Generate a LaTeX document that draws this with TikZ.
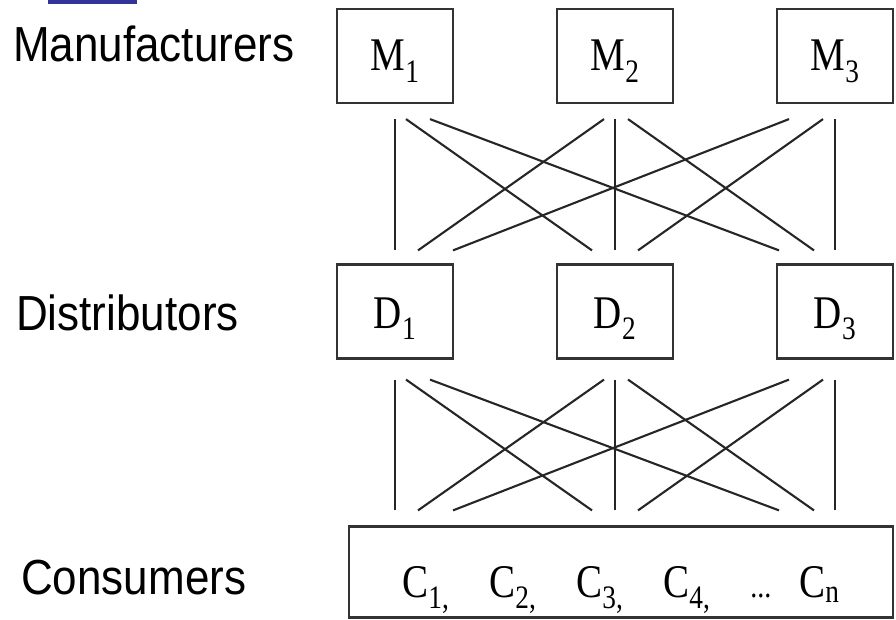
\documentclass[tikz,border=0pt]{standalone}
\usepackage{fontspec}
\setmainfont{Liberation Serif}
\newfontfamily\labelfont{Liberation Sans}
\definecolor{barblue}{RGB}{51,51,153}
\newcommand{\tallbox}[1]{\scalebox{1}[1.2]{#1}}

\begin{document}
\begin{tikzpicture}[x=1pt, y=-1pt,
    box/.style={draw=black!80, line width=2.2pt, minimum width=116pt, minimum height=94pt,
                inner sep=0pt, text height=30pt, text depth=0pt,
                font=\fontsize{39}{44}\selectfont},
    tier/.style={anchor=base west, inner sep=0pt, font=\labelfont\fontsize{44}{50}\selectfont},
    link/.style={draw=black!85, line width=2.1pt}]
  \useasboundingbox (0,0) rectangle (896,620);

  % --- Title bar ---
  \fill[barblue] (48,0) rectangle (137,4);

  % --- Tier names ---
  \node[tier] (manu) at (13,62) {\scalebox{1}[1.12]{Manufacturers}};
  \node[tier] (dist) at (16,330) {\scalebox{1}[1.12]{Distributors}};
  \node[tier] (cons) at (21,594) {\scalebox{1}[1.12]{Consumers}};

  % --- Manufacturers and distributors ---
  \foreach \i/\x in {1/395, 2/615, 3/835} {
    \node[box] (M\i) at (\x,56) {\tallbox{M\textsubscript{\i}}};
    \node[box, text height=33pt] (D\i) at (\x,311.5) {\tallbox{D\textsubscript{\i}}};
  }

  % --- Consumers ---
  \node[box, minimum width=544pt, minimum height=91pt, text height=51pt] (C) at (621,572)
    {\tallbox{\makebox[87pt][l]{C\textsubscript{1,}}\makebox[87pt][l]{C\textsubscript{2,}}%
     \makebox[87pt][l]{C\textsubscript{3,}}\makebox[87pt][l]{C\textsubscript{4,}}%
     \makebox[49pt][l]{\fontsize{28}{32}\selectfont...}C\textsubscript{n}}};
  % points on the top of the consumers box, one under each column
  \foreach \i in {1,2,3}
    \coordinate (K\i) at (D\i.south |- C.north);

  % --- Links: from / to / offset at upper end / offset at lower end ---
  \foreach \a/\b/\u/\v in {1/1/0/0, 1/2/11/-23, 1/3/35/-56,
                           2/1/-11/23, 2/2/0/0, 2/3/13/-21,
                           3/1/-46/58, 3/2/-12/23, 3/3/0/0} {
    \draw[link] ([xshift=\u pt, yshift=-15pt]M\a.south) -- ([xshift=\v pt, yshift=13pt]D\b.north);
    \draw[link] ([xshift=\u pt, yshift=-20pt]D\a.south) -- ([xshift=\v pt, yshift=15pt]K\b);
  }

\end{tikzpicture}
\end{document}
